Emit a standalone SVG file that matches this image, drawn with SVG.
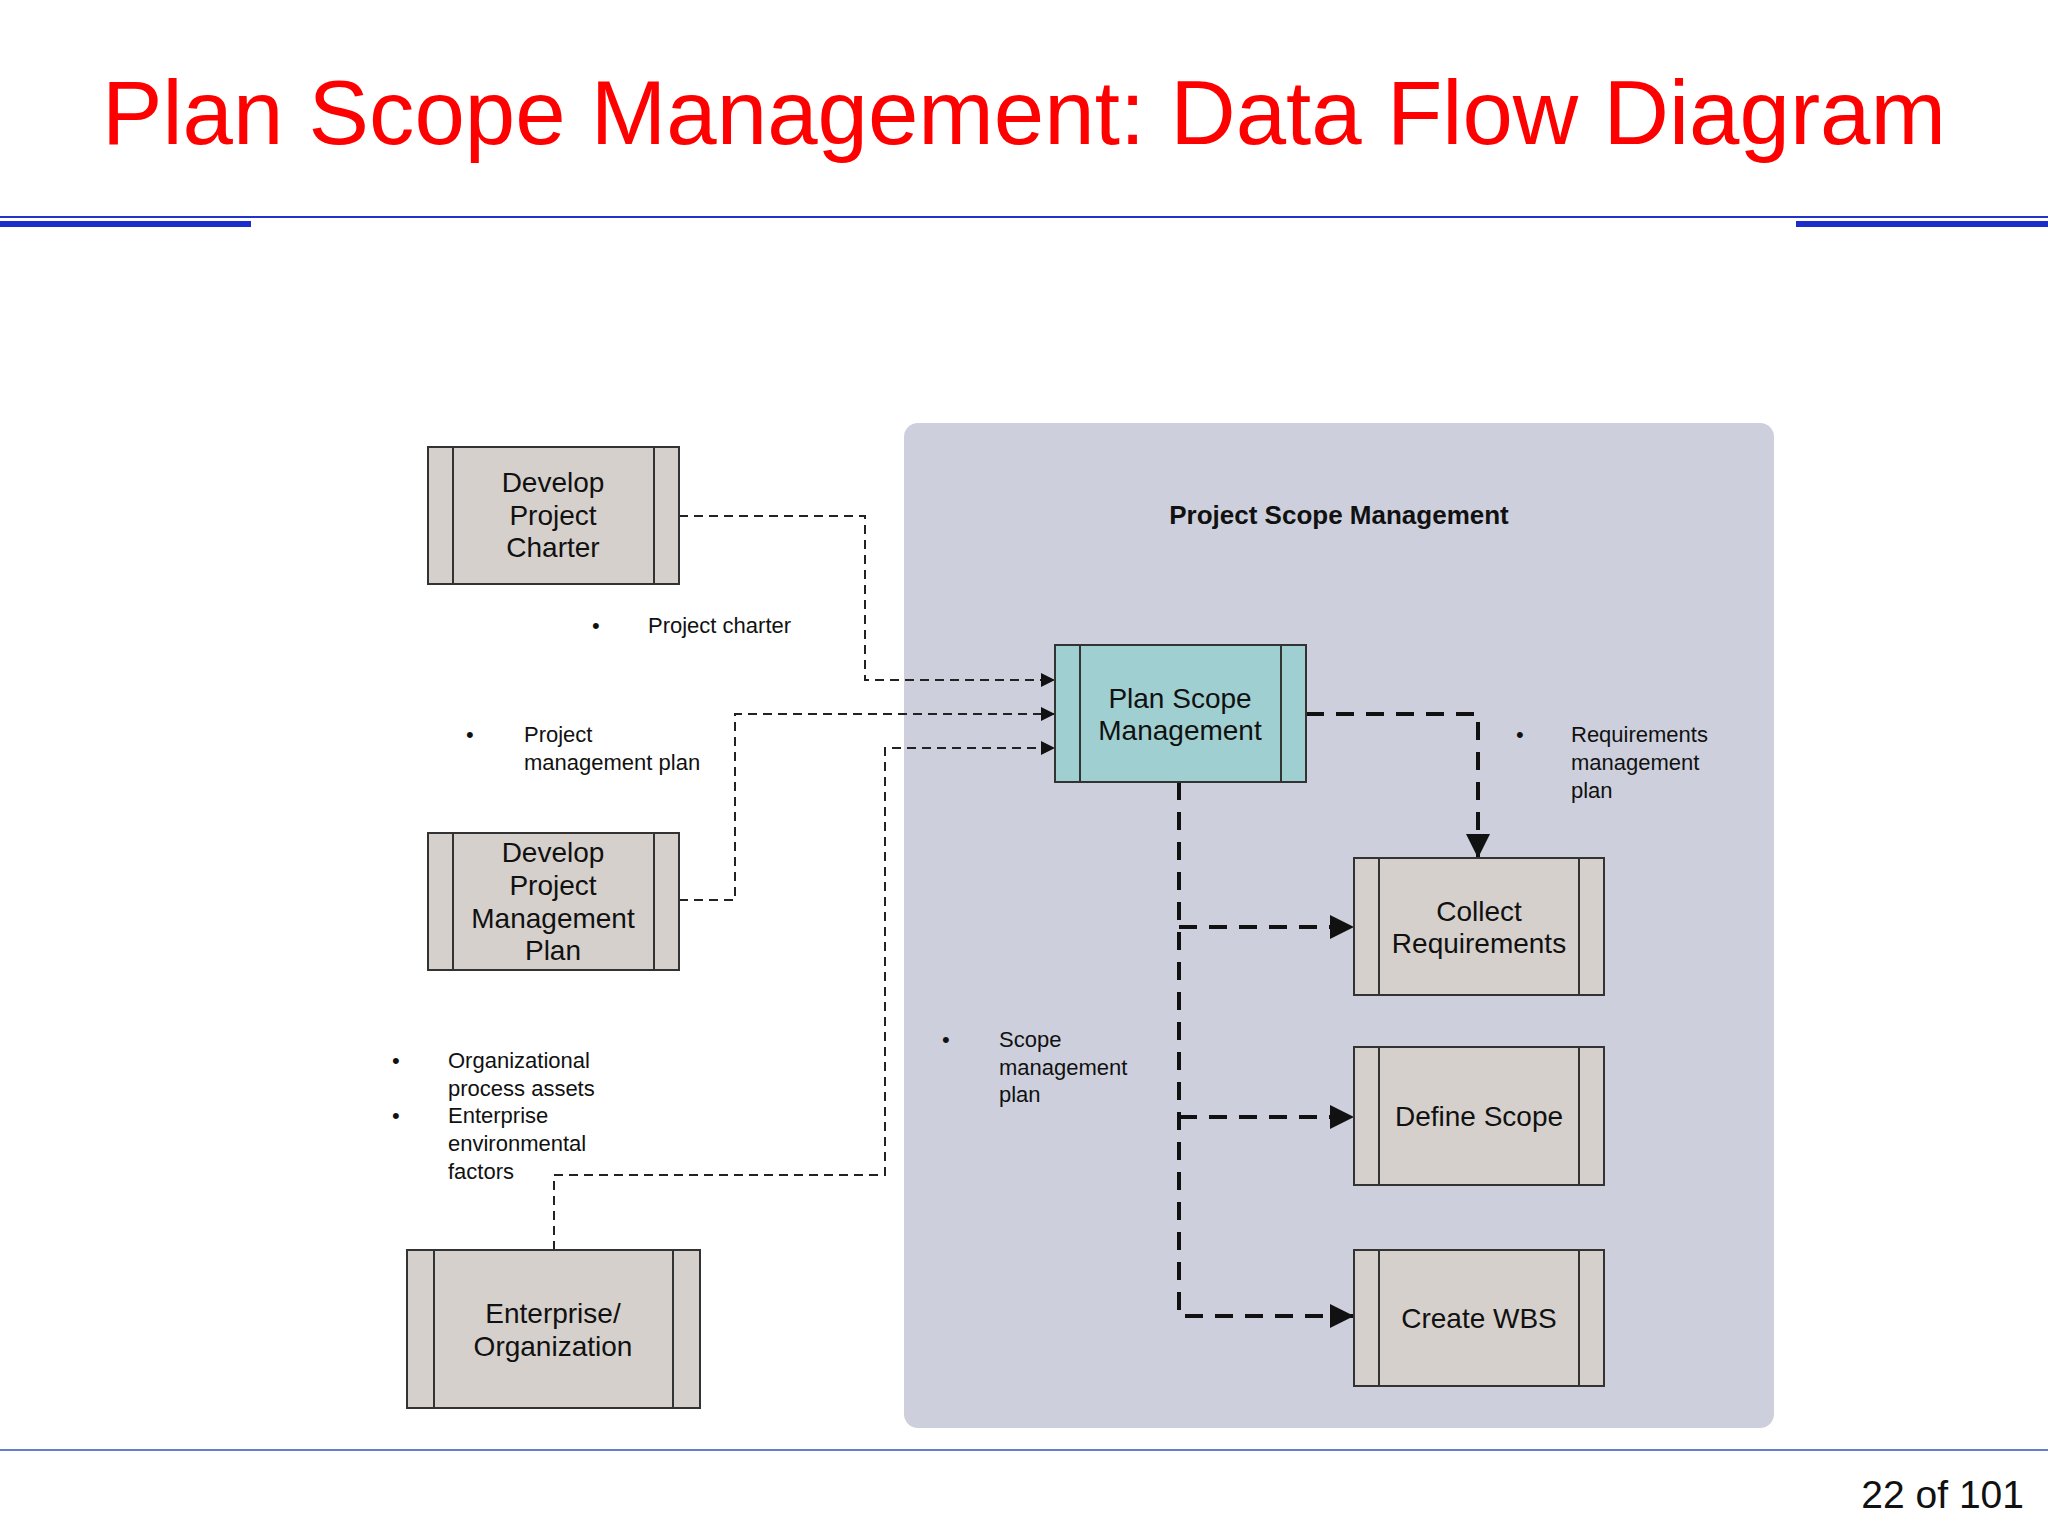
<svg xmlns="http://www.w3.org/2000/svg" width="2048" height="1536" viewBox="0 0 2048 1536">
<defs>
<style>
.box{fill:#d5d0cc;stroke:#333;stroke-width:2}
.bt{font-family:"Liberation Sans",Arial,sans-serif;font-size:28px;fill:#111;text-anchor:middle}
.lb{font-family:"Liberation Sans",Arial,sans-serif;font-size:22px;fill:#111}
.thin{fill:none;stroke:#222;stroke-width:2;stroke-dasharray:9 6}
.thick{fill:none;stroke:#111;stroke-width:4;stroke-dasharray:18 12}
</style>
<marker id="a1" viewBox="0 0 10 10" refX="10" refY="5" markerWidth="20" markerHeight="14" markerUnits="userSpaceOnUse" orient="auto"><path d="M0,0L10,5L0,10z" fill="#111"/></marker>
<marker id="a2" viewBox="0 0 10 10" refX="10" refY="5" markerWidth="30" markerHeight="24" markerUnits="userSpaceOnUse" orient="auto"><path d="M0,0L10,5L0,10z" fill="#111"/></marker>
</defs>
<rect width="2048" height="1536" fill="#fff"/>
<text x="102" y="144" font-family="Liberation Sans,Arial,sans-serif" font-size="90" fill="#ff0000" textLength="1844" lengthAdjust="spacingAndGlyphs">Plan Scope Management: Data Flow Diagram</text>
<line x1="0" y1="217" x2="2048" y2="217" stroke="#2233cc" stroke-width="2"/>
<rect x="0" y="221" width="251" height="6" fill="#1a2ecc"/>
<rect x="1796" y="221" width="252" height="6" fill="#1a2ecc"/>
<line x1="0" y1="1450" x2="2048" y2="1450" stroke="#3355bb" stroke-width="1.5"/>
<text x="2024" y="1508" text-anchor="end" font-family="Liberation Sans,Arial,sans-serif" font-size="39" fill="#111">22 of 101</text>
<rect id="panel" x="904" y="423" width="870" height="1005" rx="14" fill="#cdd0dc"/>
<text x="1339" y="524" text-anchor="middle" font-family="Liberation Sans,Arial,sans-serif" font-weight="bold" font-size="26" fill="#111">Project Scope Management</text>
<g id="connectors">
<path class="thin" d="M679,516H865V680H1055" marker-end="url(#a1)"/>
<path class="thin" d="M679,900H735V714H1055" marker-end="url(#a1)"/>
<path class="thin" d="M554,1250V1175H885V748H1055" marker-end="url(#a1)"/>
<path class="thick" d="M1306,714H1478V858" marker-end="url(#a2)"/>
<path class="thick" d="M1179,782V1316H1354" marker-end="url(#a2)"/>
<path class="thick" d="M1179,927H1354" marker-end="url(#a2)"/>
<path class="thick" d="M1179,1117H1354" marker-end="url(#a2)"/>
</g>
<g id="dpc"><rect class="box" x="428" y="447" width="251" height="137"/><path d="M453,447V584M654,447V584" stroke="#333" stroke-width="2"/>
<text class="bt" x="553" y="492">Develop</text><text class="bt" x="553" y="525">Project</text><text class="bt" x="553" y="557">Charter</text></g>
<g id="dpmp"><rect class="box" x="428" y="833" width="251" height="137"/><path d="M453,833V970M654,833V970" stroke="#333" stroke-width="2"/>
<text class="bt" x="553" y="862">Develop</text><text class="bt" x="553" y="895">Project</text><text class="bt" x="553" y="928">Management</text><text class="bt" x="553" y="960">Plan</text></g>
<g id="ent"><rect class="box" x="407" y="1250" width="293" height="158"/><path d="M434,1250V1408M673,1250V1408" stroke="#333" stroke-width="2"/>
<text class="bt" x="553" y="1323">Enterprise/</text><text class="bt" x="553" y="1356">Organization</text></g>
<g id="psm"><rect x="1055" y="645" width="251" height="137" fill="#9fcfd0" stroke="#333" stroke-width="2"/><path d="M1080,645V782M1281,645V782" stroke="#333" stroke-width="2"/>
<text class="bt" x="1180" y="708">Plan Scope</text><text class="bt" x="1180" y="740">Management</text></g>
<g id="collect"><rect class="box" x="1354" y="858" width="250" height="137"/><path d="M1379,858V995M1579,858V995" stroke="#333" stroke-width="2"/>
<text class="bt" x="1479" y="921">Collect</text><text class="bt" x="1479" y="953">Requirements</text></g>
<g id="define"><rect class="box" x="1354" y="1047" width="250" height="138"/><path d="M1379,1047V1185M1579,1047V1185" stroke="#333" stroke-width="2"/>
<text class="bt" x="1479" y="1126">Define Scope</text></g>
<g id="wbs"><rect class="box" x="1354" y="1250" width="250" height="136"/><path d="M1379,1250V1386M1579,1250V1386" stroke="#333" stroke-width="2"/>
<text class="bt" x="1479" y="1328">Create WBS</text></g>
<g class="lb">
<text x="592" y="633">•</text><text x="648" y="633">Project charter</text>
<text x="466" y="742">•</text><text x="524" y="742">Project</text><text x="524" y="770">management plan</text>
<text x="392" y="1068">•</text><text x="448" y="1068">Organizational</text><text x="448" y="1096">process assets</text>
<text x="392" y="1123">•</text><text x="448" y="1123">Enterprise</text><text x="448" y="1151">environmental</text><text x="448" y="1179">factors</text>
<text x="942" y="1047">•</text><text x="999" y="1047">Scope</text><text x="999" y="1075">management</text><text x="999" y="1102">plan</text>
<text x="1516" y="742">•</text><text x="1571" y="742">Requirements</text><text x="1571" y="770">management</text><text x="1571" y="798">plan</text>
</g>
</svg>
